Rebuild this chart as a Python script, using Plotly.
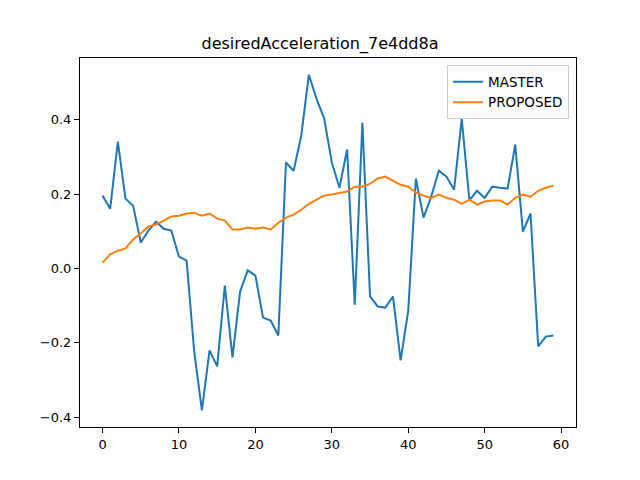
import plotly.graph_objects as go

x_index = list(range(60))
master = [0.196, 0.161, 0.341, 0.188, 0.169, 0.070, 0.102, 0.126, 0.107, 0.102,
          0.032, 0.021, -0.225, -0.381, -0.220, -0.263, -0.046, -0.239, -0.062, -0.005,
          -0.019, -0.132, -0.140, -0.180, 0.285, 0.263, 0.357, 0.521, 0.456, 0.403,
          0.285, 0.217, 0.320, -0.097, 0.392, -0.075, -0.102, -0.105, -0.075, -0.247,
          -0.113, 0.242, 0.137, 0.193, 0.263, 0.247, 0.212, 0.403, 0.183, 0.209,
          0.190, 0.220, 0.217, 0.215, 0.333, 0.099, 0.148, -0.209, -0.183, -0.180]
proposed = [0.016, 0.038, 0.048, 0.054, 0.078, 0.094, 0.113, 0.118, 0.129, 0.140,
            0.142, 0.148, 0.150, 0.142, 0.148, 0.134, 0.129, 0.105, 0.105, 0.110,
            0.107, 0.110, 0.105, 0.123, 0.137, 0.145, 0.158, 0.174, 0.185, 0.196,
            0.199, 0.204, 0.207, 0.220, 0.220, 0.228, 0.242, 0.247, 0.236, 0.225,
            0.220, 0.204, 0.196, 0.190, 0.199, 0.190, 0.185, 0.174, 0.185, 0.172,
            0.180, 0.183, 0.183, 0.172, 0.190, 0.199, 0.193, 0.209, 0.217, 0.223]
x_ticks = [0, 10, 20, 30, 40, 50, 60]
y_ticks = [-0.4, -0.2, 0.0, 0.2, 0.4]

fig = go.Figure()
fig.add_trace(go.Scatter(x=x_index, y=master, mode="lines", name="MASTER",
                         line=dict(color="#1f77b4", width=2)))
fig.add_trace(go.Scatter(x=x_index, y=proposed, mode="lines", name="PROPOSED",
                         line=dict(color="#ff7f0e", width=2)))

axis_common = dict(showline=True, linecolor="black", linewidth=1, mirror=True,
                   ticks="outside", ticklen=5, tickcolor="black", showgrid=False,
                   zeroline=False, tickfont=dict(family="DejaVu Sans", size=13, color="black"))

fig.update_layout(
    width=640, height=480,
    paper_bgcolor="white", plot_bgcolor="white",
    margin=dict(l=80, r=64, t=58, b=53),
    title=dict(text="desiredAcceleration_7e4dd8a", x=0.5, xanchor="center",
               y=1 - 43 / 480, yanchor="middle",
               font=dict(family="DejaVu Sans", size=16, color="black")),
    xaxis=dict(range=[-2.95, 61.95], tickvals=x_ticks, **axis_common),
    yaxis=dict(range=[-0.426, 0.566], tickvals=y_ticks, tickformat=".1f", **axis_common),
    legend=dict(x=0.986, y=0.98, xanchor="right", yanchor="top",
                bgcolor="rgba(255,255,255,0.8)", bordercolor="#cccccc", borderwidth=1,
                font=dict(family="DejaVu Sans", size=13.5, color="black")),
    showlegend=True,
)

fig.write_html("out.html", config={"displayModeBar": False},
               post_script="document.body.style.margin='0';")
